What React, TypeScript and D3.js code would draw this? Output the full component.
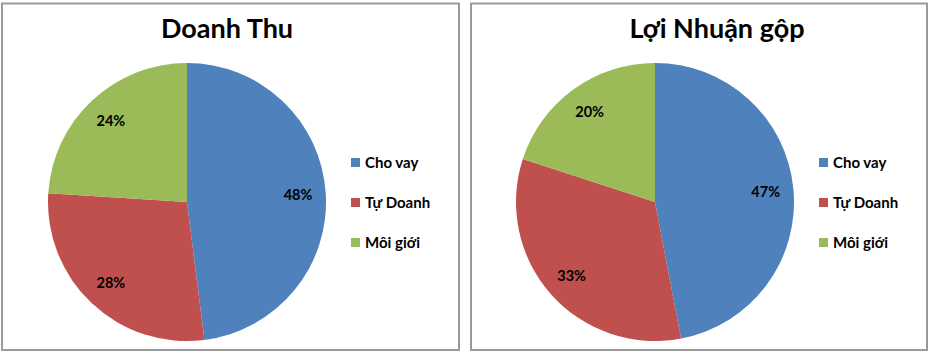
import React from "react";
import * as d3 from "d3";

const categories = ["Cho vay", "Tự Doanh", "Môi giới"];
const revenueValues = [48, 28, 24];
const profitValues = [47, 33, 20];
const titles = ["Doanh Thu", "Lợi Nhuận gộp"];
const colors = ["#4F81BD", "#C0504D", "#9BBB59"];

const FONT = "Lato, Carlito, Calibri, 'Open Sans', sans-serif";

function PiePanel({ x0, x1, cx, title, titleX, values, legendX }: any) {
  const cy = 202;
  const r = 139;
  const pie = d3.pie<number>().sort(null).value((d) => d)(values);
  const arc = d3.arc<any>().innerRadius(0).outerRadius(r);
  const labelArc = d3.arc<any>().innerRadius(r * 0.8).outerRadius(r * 0.8);
  const total = d3.sum(values);
  return (
    <g>
      <rect x={x0} y={3.5} width={x1 - x0} height={346.5} fill="#fff" stroke="#9a9a9a" strokeWidth={2} />
      <text x={titleX} y={38} textAnchor="middle" fontFamily={FONT} fontWeight="bold" fontSize={27} fill="#000">
        {title}
      </text>
      <g transform={`translate(${cx},${cy})`}>
        {pie.map((p, i) => (
          <path key={i} d={arc(p) as string} fill={colors[i]} />
        ))}
        {pie.map((p, i) => {
          const [lx, ly] = labelArc.centroid(p);
          return (
            <text key={"l" + i} x={lx} y={ly} dy="0.35em" textAnchor="middle" fontFamily={FONT} fontWeight="bold" fontSize={14.5} fill="#000">
              {d3.format(".0%")(values[i] / total)}
            </text>
          );
        })}
      </g>
      {categories.map((c, i) => (
        <g key={c} transform={`translate(${legendX},${162 + i * 40})`}>
          <rect x={0} y={-4} width={9} height={9} fill={colors[i]} />
          <text x={14} y={5.5} fontFamily={FONT} fontWeight="bold" fontSize={15} fill="#000">
            {c}
          </text>
        </g>
      ))}
    </g>
  );
}

export default function App() {
  return (
    <svg width={932} height={354} style={{ position: "absolute", left: 0, top: 0, background: "#fff" }}>
      <rect width={932} height={354} fill="#fff" />
      <PiePanel x0={2} x1={459} cx={187} title={titles[0]} titleX={227} values={revenueValues} legendX={351} />
      <PiePanel x0={471} x1={927} cx={655} title={titles[1]} titleX={717} values={profitValues} legendX={819} />
    </svg>
  );
}
